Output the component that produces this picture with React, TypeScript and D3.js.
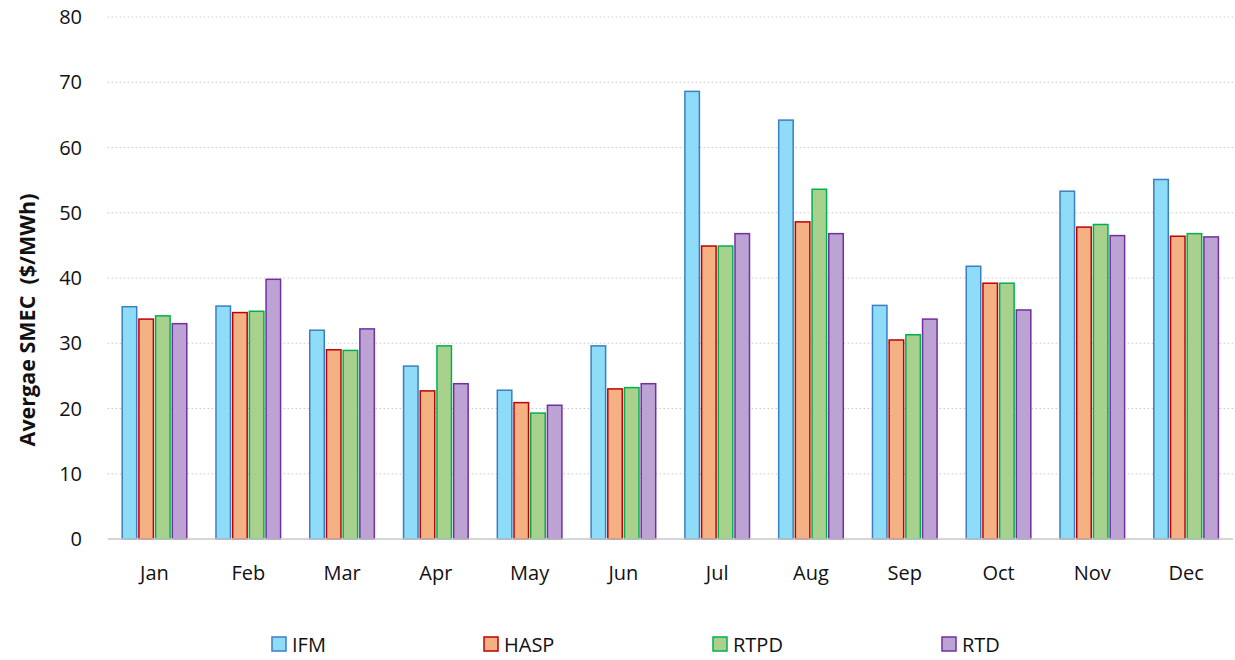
import React from "react";
import * as d3 from "d3";

const months = ["Jan", "Feb", "Mar", "Apr", "May", "Jun", "Jul", "Aug", "Sep", "Oct", "Nov", "Dec"];
const seriesNames = ["IFM", "HASP", "RTPD", "RTD"];
const ifm = [35.6, 35.7, 32.0, 26.5, 22.8, 29.6, 68.6, 64.2, 35.8, 41.8, 53.3, 55.1];
const hasp = [33.7, 34.7, 29.0, 22.7, 20.9, 23.0, 44.9, 48.6, 30.5, 39.2, 47.8, 46.4];
const rtpd = [34.2, 34.9, 28.9, 29.6, 19.3, 23.2, 44.9, 53.6, 31.3, 39.2, 48.2, 46.8];
const rtd = [33.0, 39.8, 32.2, 23.8, 20.5, 23.8, 46.8, 46.8, 33.7, 35.1, 46.5, 46.3];
const yTicks = [0, 10, 20, 30, 40, 50, 60, 70, 80];

const fills = ["#8fdcf8", "#f4b183", "#a9d18e", "#bda2d4"];
const strokes = ["#3a7fc1", "#c00000", "#00b050", "#7030a0"];

export default function App() {
  const W = 1235, H = 660;
  const left = 107.6, right = 1233, top = 17, bottom = 539;
  const font = "'Open Sans', sans-serif";
  const x = d3.scaleBand<string>().domain(months).range([left, right]).paddingInner(0).paddingOuter(0);
  const y = d3.scaleLinear().domain([0, 80]).range([bottom, top]);
  const data = [ifm, hasp, rtpd, rtd];
  const barW = 14.5;
  const step = 16.7;
  const legendX = [272, 484, 713, 942];

  return (
    <svg width={W} height={H} style={{ position: "absolute", left: 0, top: 0 }} fontFamily={font}>
      {yTicks.map((t) => (
        <g key={t}>
          {t > 0 && (
            <line x1={left} x2={right} y1={y(t)} y2={y(t)} stroke="#c8c8c8" strokeWidth={1.2} strokeDasharray="1.5 2.5" />
          )}
          <text x={82} y={y(t)} dy="0.36em" textAnchor="end" fontSize={20} fill="#111">{t}</text>
        </g>
      ))}
      {months.map((m, i) => {
        const c = (x(m) as number) + x.bandwidth() / 2;
        return (
          <g key={m}>
            {data.map((s, k) => {
              const bx = c + (k - 1.5) * step - barW / 2;
              return (
                <rect key={k} x={bx} y={y(s[i])} width={barW} height={bottom - y(s[i])}
                  fill={fills[k]} stroke={strokes[k]} strokeWidth={1.5} />
              );
            })}
            <text x={c} y={580} textAnchor="middle" fontSize={20} fill="#111">{m}</text>
          </g>
        );
      })}
      <line x1={left} x2={right} y1={bottom} y2={bottom} stroke="#c8c8c8" strokeWidth={1.5} />
      <text transform={`translate(34.5,320) rotate(-90)`} textAnchor="middle" fontSize={21.5} fontWeight="bold" fill="#111" style={{ whiteSpace: "pre" }}>{"Avergae SMEC  ($/MWh)"}</text>
      {seriesNames.map((n, k) => (
        <g key={n}>
          <rect x={legendX[k]} y={637} width={14} height={14} fill={fills[k]} stroke={strokes[k]} strokeWidth={1.5} />
          <text x={legendX[k] + 20} y={651.5} fontSize={20} fill="#111">{n}</text>
        </g>
      ))}
    </svg>
  );
}
